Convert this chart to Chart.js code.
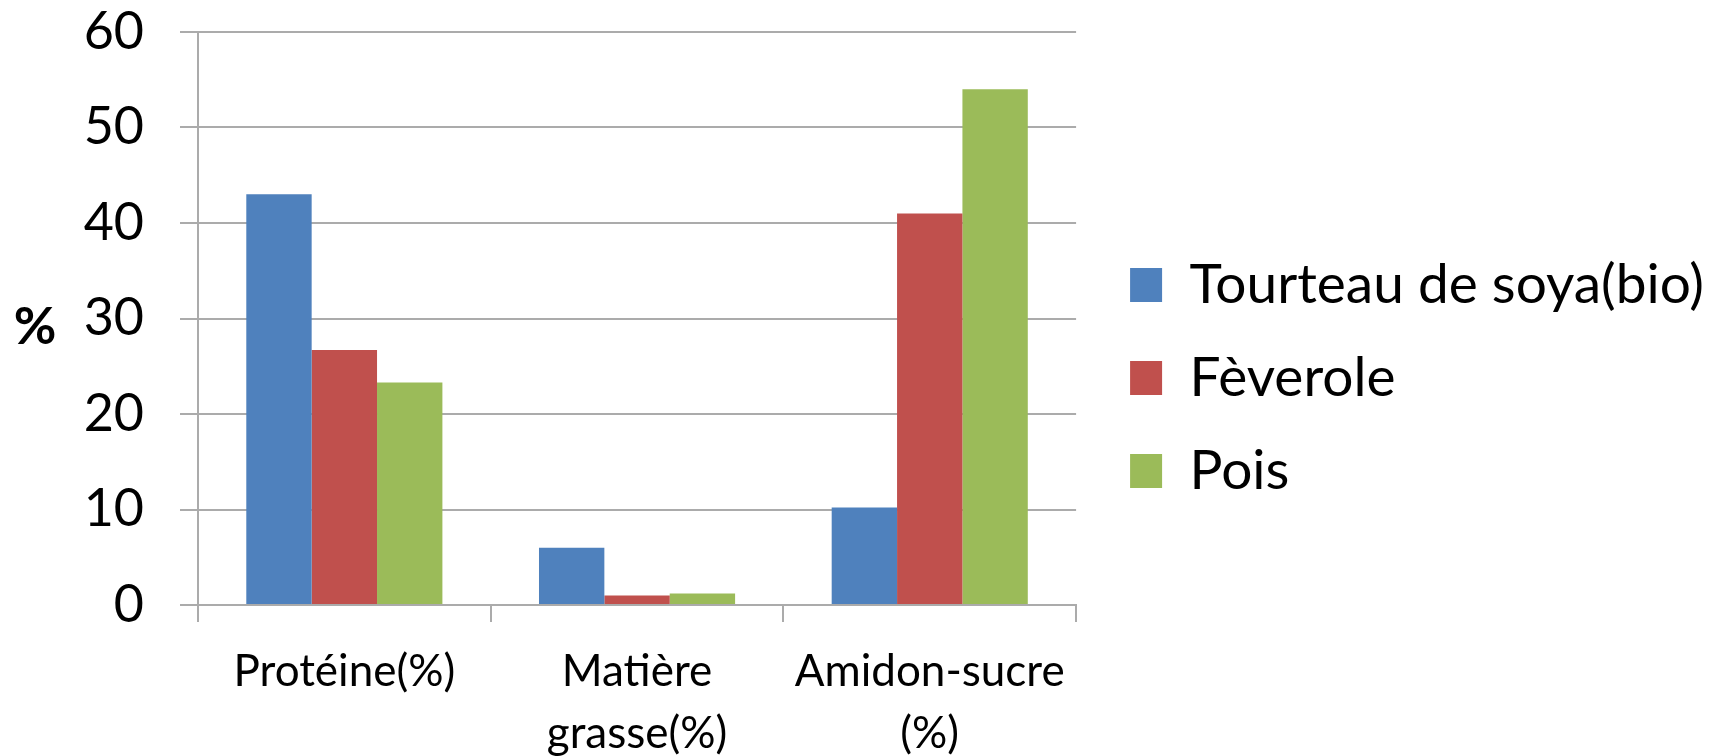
<!DOCTYPE html>
<html lang="fr">
<head>
<meta charset="utf-8">
<title>Composition</title>
<script src="https://cdn.jsdelivr.net/npm/chart.js@4.4.1/dist/chart.umd.min.js"></script>
<style>
    html, body { margin: 0; padding: 0; background: #fff; }
    #wrap { width: 1714px; height: 756px; }
</style>
</head>
<body>
<div id="wrap"><canvas id="chart" width="1714" height="756"></canvas></div>
<script>
// Chart data
const categories = ['Protéine(%)', ['Matière', 'grasse(%)'], ['Amidon-sucre', '(%)']];
const seriesNames = ['Tourteau de soya(bio)', 'Fèverole', 'Pois'];
const soyaValues = [43, 6, 10.2];
const feveroleValues = [26.7, 1, 41];
const poisValues = [23.3, 1.2, 54];
const yTicks = [0, 10, 20, 30, 40, 50, 60];

const colors = ['#4F81BD', '#C0504D', '#9BBB59'];
const gridColor = '#ababab';

Chart.defaults.font.family = "'Lato', sans-serif";
Chart.defaults.color = '#000';

// "%" label drawn horizontally left of the y axis
const percentLabel = {
    id: 'percentLabel',
    afterDraw(chart) {
        const { ctx, chartArea } = chart;
        ctx.save();
        ctx.font = "bold 52px 'Lato', sans-serif";
        ctx.fillStyle = '#000';
        ctx.textAlign = 'center';
        ctx.textBaseline = 'middle';
        ctx.fillText('%', 35, (chartArea.top + chartArea.bottom) / 2 + 9);
        ctx.restore();
    }
};

const values = [soyaValues, feveroleValues, poisValues];

new Chart(document.getElementById('chart').getContext('2d'), {
    type: 'bar',
    data: {
        labels: categories,
        datasets: seriesNames.map((name, i) => ({
            label: name,
            data: values[i],
            backgroundColor: colors[i],
            borderWidth: 0,
            categoryPercentage: 0.67,
            barPercentage: 1
        }))
    },
    options: {
        responsive: false,
        devicePixelRatio: 1,
        animation: false,
        layout: { padding: 0 },
        plugins: {
            legend: {
                position: 'right',
                align: 'center',
                maxWidth: 800,
                labels: {
                    boxWidth: 32,
                    boxHeight: 34,
                    padding: 38,
                    font: { size: 55 },
                    color: '#000'
                }
            },
            tooltip: { enabled: false }
        },
        scales: {
            x: {
                grid: {
                    offset: true,
                    drawOnChartArea: false,
                    drawTicks: true,
                    tickLength: 17,
                    color: gridColor,
                    lineWidth: 2
                },
                border: { display: true, color: gridColor, width: 2 },
                ticks: {
                    font: { size: 44, lineHeight: 1.4 },
                    padding: 19,
                    maxRotation: 0,
                    autoSkip: false
                },
                afterFit: s => { s.height = 151; }
            },
            y: {
                min: 0,
                max: 60,
                afterBuildTicks: s => { s.ticks = yTicks.map(v => ({ value: v })); },
                grid: {
                    color: gridColor,
                    lineWidth: 2,
                    drawTicks: true,
                    tickLength: 18
                },
                border: { display: true, color: gridColor, width: 2 },
                ticks: {
                    font: { size: 52 },
                    padding: 36
                },
                afterFit: s => {
                    s.width = 198;
                    s.paddingTop = 32;
                    s.paddingBottom = 0;
                }
            },
            // empty spacer between plot and legend
            spacer: {
                type: 'linear',
                position: 'right',
                display: true,
                grid: { display: false },
                border: { display: false },
                ticks: { display: false },
                afterFit: s => { s.width = 16; }
            }
        }
    },
    plugins: [percentLabel]
});
</script>
</body>
</html>
